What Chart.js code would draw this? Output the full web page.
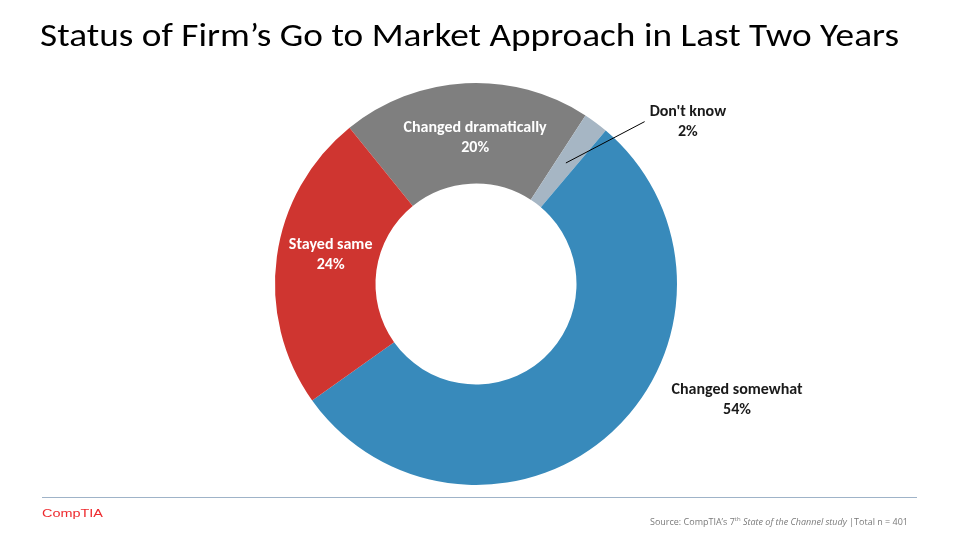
<!DOCTYPE html>
<html><head><meta charset="utf-8">
<script src="https://cdn.jsdelivr.net/npm/chart.js@4/dist/chart.umd.min.js"></script>
<style>
html,body{margin:0;padding:0;background:#fff;width:960px;height:540px;overflow:hidden;}
#wrap{position:absolute;left:0;top:0;width:960px;height:540px;}
#title{position:absolute;left:40px;top:16px;font-family:Carlito,'Open Sans',sans-serif;font-size:33px;color:#000;white-space:nowrap;transform-origin:0 0;line-height:1.2;}
#rule{position:absolute;left:42px;top:497px;width:875px;height:1px;background:#9fb3c8;}
#logo{position:absolute;left:42px;top:507px;font-family:'Liberation Sans',Arial,sans-serif;font-size:11px;line-height:13px;color:#ee2a2e;white-space:nowrap;transform-origin:0 0;}
#src{position:absolute;left:650px;top:515px;font-family:'Open Sans',sans-serif;font-size:9px;color:#7a7a7a;white-space:nowrap;transform-origin:0 0;}
</style></head>
<body>
<div id="wrap"><canvas id="c" width="960" height="540"></canvas></div>
<div id="title">Status of Firm’s Go to Market Approach in Last Two Years</div>
<div id="rule"></div>
<div id="logo">CompTIA</div>
<div id="src">Source: CompTIA’s 7<sup style="font-size:6px">th</sup> <i>State of the Channel study</i> |Total n = 401</div>
<script>
const categories = ["Changed dramatically", "Don't know", "Changed somewhat", "Stayed same"];
const values = [20, 2, 54, 24];
const colors = ["#7f7f7f", "#a6b6c4", "#388abb", "#cf3530"];

// label styling: where: 'in' ring middle, 'out' outside; offsets in px
const labelStyle = [
  {where:'in', dx:7, dy:5, color:'#fff'},
  {where:'out', dx:92, dy:-1, color:'#1a1a1a', leader:true},
  {where:'out', dx:125, dy:-32, color:'#1a1a1a'},
  {where:'in', dx:4, dy:-9, color:'#fff'}
];

const labelPlugin = {
  id:'labels',
  afterDatasetsDraw(chart){
    const ctx = chart.ctx;
    const meta = chart.getDatasetMeta(0);
    ctx.save();
    ctx.font = "bold 16px Carlito, 'Open Sans', sans-serif";
    ctx.textAlign = 'center';
    ctx.textBaseline = 'middle';
    meta.data.forEach((arc, i) => {
      const p = arc.getProps(['x','y','startAngle','endAngle','innerRadius','outerRadius'], true);
      const mid = (p.startAngle + p.endAngle)/2;
      const s = labelStyle[i];
      const rMid = (p.innerRadius + p.outerRadius)/2;
      const r = s.where === 'in' ? rMid : p.outerRadius;
      const ax = p.x + Math.cos(mid)*r, ay = p.y + Math.sin(mid)*r;
      const lx = ax + s.dx, ly = ay + s.dy;
      const pct = Math.round(values[i] / values.reduce((a,b)=>a+b,0) * 100) + '%';
      if (s.leader){
        const w = ctx.measureText(categories[i]).width;
        ctx.strokeStyle = '#000'; ctx.lineWidth = 1;
        ctx.beginPath();
        ctx.moveTo(p.x + Math.cos(mid)*rMid, p.y + Math.sin(mid)*rMid);
        ctx.lineTo(lx - w/2 - 5, ly);
        ctx.stroke();
      }
      ctx.fillStyle = s.color;
      ctx.fillText(categories[i], lx, ly - 10);
      ctx.fillText(pct, lx, ly + 10);
    });
    ctx.restore();
  }
};

new Chart(document.getElementById('c'), {
  type:'doughnut',
  data:{ labels:categories, datasets:[{ data:values, backgroundColor:colors, borderWidth:0 }]},
  options:{
    responsive:false, animation:false,
    rotation:-39, cutout:'50%',
    layout:{ padding:{ left:275, right:283, top:83, bottom:55 } },
    plugins:{ legend:{display:false}, tooltip:{enabled:false} }
  },
  plugins:[labelPlugin]
});

// fit text widths
function fitW(id, target){
  const el = document.getElementById(id);
  el.style.transform = 'scaleX(' + (target / el.getBoundingClientRect().width) + ')';
}
fitW('title', 859);
fitW('src', 258);
fitW('logo', 61);
</script>
</body></html>
